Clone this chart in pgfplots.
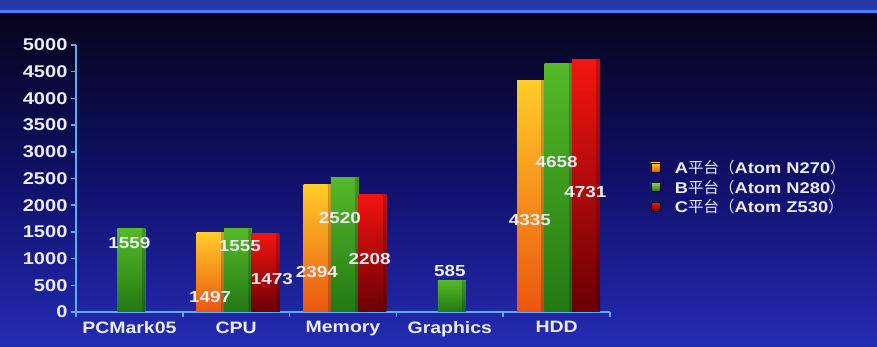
\documentclass[border=0pt]{standalone}
\usepackage{pgfplots}
\pgfplotsset{compat=1.18}
\usepackage{fontspec}
\setmainfont{Liberation Sans}[FakeStretch=1.18]
\newfontfamily\cjk{Noto Sans CJK SC}
\usetikzlibrary{shadows}
\definecolor{bgtop}{RGB}{6,4,26}
\definecolor{bgmid}{RGB}{16,16,105}
\definecolor{bgbot}{RGB}{36,44,180}
\definecolor{stripc}{RGB}{40,55,170}
\definecolor{linec}{RGB}{80,120,255}
\definecolor{axc}{RGB}{90,175,240}
\definecolor{labc}{RGB}{235,235,242}
\definecolor{Atop}{RGB}{255,205,40}
\definecolor{Abot}{RGB}{235,85,15}
\definecolor{Btop}{RGB}{85,185,40}
\definecolor{Bbot}{RGB}{35,120,20}
\definecolor{Ctop}{RGB}{245,20,15}
\definecolor{Cbot}{RGB}{105,0,5}
\pgfplotsset{
  shad/.style={drop shadow={shadow xshift=4pt, shadow yshift=0pt, fill=black, opacity=0.8}},
  Abar/.style={ybar, bar shift=-0.257, top color=Atop, bottom color=Abot, draw=none, shad, forget plot},
  Bbar/.style={ybar, bar shift=0, top color=Btop, bottom color=Bbot, draw=none, shad, forget plot},
  Cbar/.style={ybar, bar shift=0.257, top color=Ctop, bottom color=Cbot, draw=none, shad, forget plot},
}
\begin{document}
\begin{tikzpicture}
\path[use as bounding box] (0,0) rectangle (877pt,347pt);
\shade[top color=bgtop, bottom color=bgbot, middle color=bgmid] (0,0) rectangle (877pt,335pt);
\fill[stripc] (0,335pt) rectangle (877pt,347pt);
\draw[linec, line width=3pt] (0,335pt) -- (877pt,335pt);
\begin{axis}[
  at={(76pt,35pt)}, anchor=south west,
  scale only axis, width=534pt, height=267pt,
  xmin=-0.5, xmax=4.5, ymin=0, ymax=5000,
  axis lines*=left,
  axis line style={axc, line width=1.5pt},
  ytick={0,500,...,5000},
  xtick={0,1,2,3,4},
  xticklabels={PCMark05,CPU,Memory,Graphics,HDD},
  minor xtick={-0.5,0.5,1.5,2.5,3.5,4.5},
  tick style={axc, line width=1.5pt},
  major x tick style={draw=none},
  tick align=outside, major tick length=5pt, minor tick length=5pt,
  /pgf/number format/assume math mode=true,
  /pgf/number format/1000 sep={},
  yticklabel style={font=\bfseries\fontsize{17}{17}\selectfont, text=labc},
  xticklabel style={font=\bfseries\fontsize{16.5}{16}\selectfont, text=labc, yshift=-1pt},
  bar width=0.225,
  legend style={at={(1.07,0.585)}, anchor=north west, draw=none, fill=none,
    font=\bfseries\fontsize{15.5}{16}\selectfont, text=labc, row sep=1pt,
    cells={anchor=west}},
  clip=false,
]
% A series (Atom N270)
\addplot[Abar] coordinates {(1,1497)};
\addplot[Abar] coordinates {(2,2394)};
\addplot[Abar] coordinates {(4,4335)};
% B series (Atom N280)
\addplot[Bbar] coordinates {(0,1559)};
\addplot[Bbar] coordinates {(1,1555)};
\addplot[Bbar] coordinates {(2,2520)};
\addplot[Bbar] coordinates {(3,585)};
\addplot[Bbar] coordinates {(4,4658)};
% C series (Atom Z530)
\addplot[Cbar] coordinates {(1,1473)};
\addplot[Cbar] coordinates {(2,2208)};
\addplot[Cbar] coordinates {(4,4731)};
\addlegendimage{legend image code/.code={\fill[top color=Atop, bottom color=Abot] (0pt,-4.5pt) rectangle (9pt,4.5pt);\path (22pt,0pt);}}
\addlegendentry{A{\cjk\mdseries 平台（}Atom N270{\cjk\mdseries ）}}
\addlegendimage{legend image code/.code={\fill[top color=Btop!70!white, bottom color=Bbot] (0pt,-4.5pt) rectangle (9pt,4.5pt);\path (22pt,0pt);}}
\addlegendentry{B{\cjk\mdseries 平台（}Atom N280{\cjk\mdseries ）}}
\addlegendimage{legend image code/.code={\fill[top color=Ctop, bottom color=Cbot] (0pt,-4.5pt) rectangle (9pt,4.5pt);\path (22pt,0pt);}}
\addlegendentry{C{\cjk\mdseries 平台（}Atom Z530{\cjk\mdseries ）}}
\tikzset{lab/.style={text=labc, font=\bfseries\fontsize{16}{16}\selectfont, inner sep=0pt}}
\node[lab] at (axis cs:0,1292) {1559};
\node[lab] at (axis cs:0.755,281) {1497};
\node[lab] at (axis cs:1.035,1236) {1555};
\node[lab] at (axis cs:1.335,618) {1473};
\node[lab] at (axis cs:1.755,749) {2394};
\node[lab] at (axis cs:1.97,1760) {2520};
\node[lab] at (axis cs:2.25,993) {2208};
\node[lab] at (axis cs:3.0,768) {585};
\node[lab] at (axis cs:3.75,1723) {4335};
\node[lab] at (axis cs:4.0,2809) {4658};
\node[lab] at (axis cs:4.27,2247) {4731};
\end{axis}
\end{tikzpicture}
\end{document}
